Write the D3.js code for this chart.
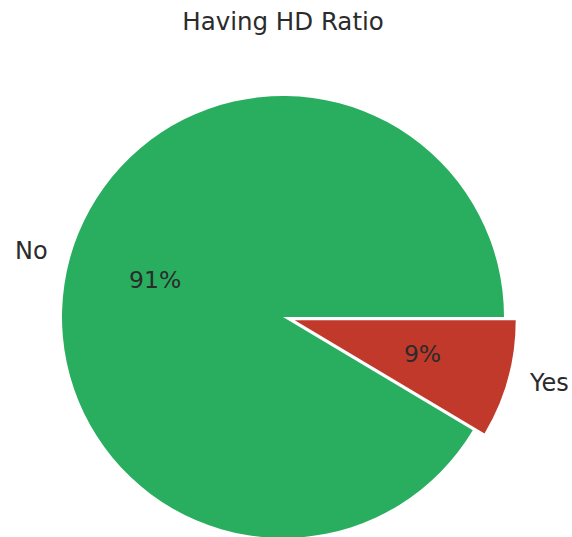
<!DOCTYPE html>
<html>
<head>
<meta charset="utf-8">
<script src="https://cdn.jsdelivr.net/npm/d3@7"></script>
<style>
  html, body { margin: 0; padding: 0; background: #fff; }
  text { font-family: "DejaVu Sans", sans-serif; fill: #2b2b2b; }
</style>
</head>
<body>
<svg id="chart" width="572" height="537"></svg>
<script>
// Heart disease answers (counts)
const categories = ["No", "Yes"];
const counts = [292422, 27373];
const colors = ["#29ae60", "#c0392b"];
const explode = [0, 0.055];

const svg = d3.select("#chart");
const cx = 283, cy = 317, r = 221;

svg.append("text")
  .attr("x", cx).attr("y", 30)
  .attr("text-anchor", "middle")
  .attr("font-size", 24.5)
  .text("Having HD Ratio");

const total = d3.sum(counts);
const data = categories.map((c, i) => ({ label: c, value: counts[i], color: colors[i], explode: explode[i] }));

// start at 3 o'clock, run counter-clockwise
const pie = d3.pie().value(d => d.value).sort(null)
  .startAngle(Math.PI / 2).endAngle(Math.PI / 2 - 2 * Math.PI);

const arc = d3.arc().innerRadius(0).outerRadius(r);
const arcs = pie(data);

const g = svg.append("g").attr("transform", `translate(${cx},${cy})`);

function dir(a) {
  return [Math.sin(a), -Math.cos(a)];
}

arcs.forEach(a => {
  const mid = (a.startAngle + a.endAngle) / 2;
  const [ux, uy] = dir(mid);
  const off = a.data.explode * r;
  const sg = g.append("g").attr("transform", `translate(${ux * off},${uy * off})`);
  sg.append("path")
    .attr("d", arc({ startAngle: Math.min(a.startAngle, a.endAngle), endAngle: Math.max(a.startAngle, a.endAngle) }))
    .attr("fill", a.data.color);
  sg.append("text")
    .attr("x", ux * r * 0.6).attr("y", uy * r * 0.6)
    .attr("text-anchor", "middle").attr("dy", "0.28em")
    .attr("font-size", 23.5)
    .text(d3.format(".0f")(a.data.value / total * 100) + "%");
  sg.append("text")
    .attr("x", ux * r * 1.1 + (ux < 0 ? -1 : 1)).attr("y", uy * r * 1.1)
    .attr("text-anchor", ux < 0 ? "end" : "start").attr("dy", "0.26em")
    .attr("font-size", 24)
    .text(a.data.label);
});
</script>
</body>
</html>
